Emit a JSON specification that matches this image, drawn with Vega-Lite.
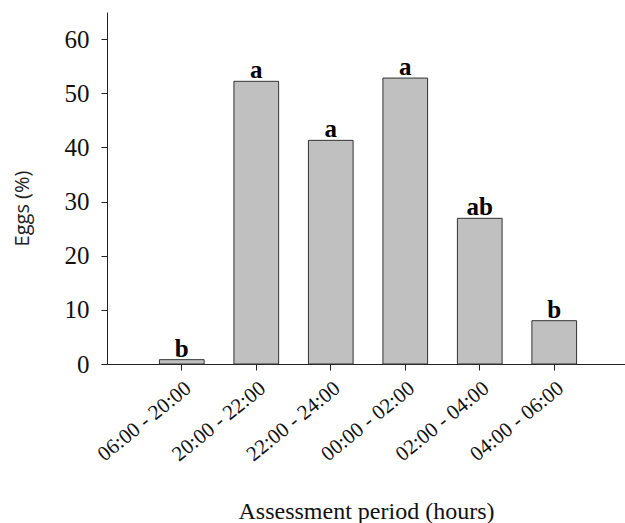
{
  "$schema": "https://vega.github.io/schema/vega-lite/v6.json",
  "autosize": "none",
  "padding": {"left": 107, "top": 12, "right": 0, "bottom": 159},
  "width": 518,
  "height": 352,
  "background": "white",
  "config": {"view": {"stroke": null}},
  "data": {
    "values": [
      {"period": "06:00 - 20:00", "eggs": 0.8, "group": "b"},
      {"period": "20:00 - 22:00", "eggs": 52.2, "group": "a"},
      {"period": "22:00 - 24:00", "eggs": 41.3, "group": "a"},
      {"period": "00:00 - 02:00", "eggs": 52.8, "group": "a"},
      {"period": "02:00 - 04:00", "eggs": 26.9, "group": "ab"},
      {"period": "04:00 - 06:00", "eggs": 8.0, "group": "b"}
    ]
  },
  "encoding": {
    "x": {
      "field": "period",
      "type": "nominal",
      "sort": null,
      "scale": {"paddingInner": 0.4, "paddingOuter": 0.677, "align": 0.52},
      "axis": {
        "title": "Assessment period (hours)",
        "titleFont": "Liberation Serif",
        "titleFontSize": 24,
        "titleFontWeight": "normal",
        "titleColor": "#111",
        "titleY": 154,
        "titleBaseline": "alphabetic",
        "labelFont": "Liberation Serif",
        "labelFontSize": 21,
        "labelColor": "#111",
        "labelAngle": -39,
        "labelPadding": 7,
        "tickSize": 6,
        "tickColor": "#222",
        "domainColor": "#222",
        "grid": false
      }
    },
    "y": {
      "field": "eggs",
      "type": "quantitative",
      "scale": {"domain": [0, 65], "nice": false},
      "axis": {
        "title": "Eggs (%)",
        "titleFont": "Open Sans",
        "titleFontSize": 20,
        "titleFontWeight": "normal",
        "titleColor": "#222",
        "titleX": -85,
        "titleY": 196,
        "titleAlign": "center",
        "titleBaseline": "middle",
        "values": [0, 10, 20, 30, 40, 50, 60],
        "labelFont": "Liberation Serif",
        "labelFontSize": 25,
        "labelColor": "#111",
        "labelPadding": 12,
        "tickSize": 6,
        "tickColor": "#222",
        "domainColor": "#222",
        "grid": false
      }
    }
  },
  "layer": [
    {
      "mark": {"type": "bar", "fill": "#c0c0c0", "stroke": "#333", "strokeWidth": 1}
    },
    {
      "mark": {"type": "text", "font": "Liberation Serif", "fontWeight": "bold", "fontSize": 25, "baseline": "alphabetic", "dy": -3, "color": "#000"},
      "encoding": {"text": {"field": "group"}}
    }
  ]
}
